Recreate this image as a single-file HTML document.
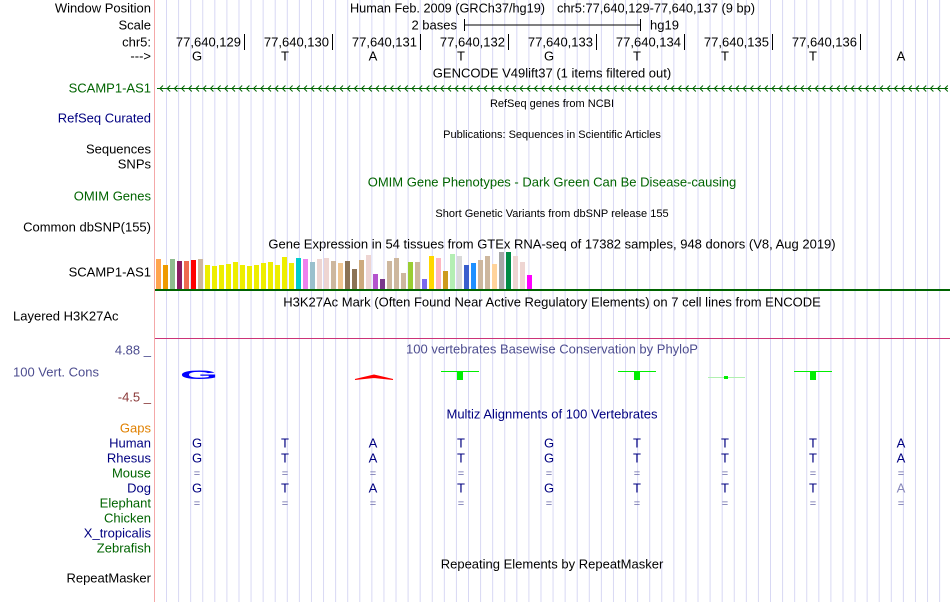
<!DOCTYPE html>
<html><head><meta charset="utf-8"><style>
body{margin:0;background:#fff;width:950px;height:602px;overflow:hidden;font-family:"Liberation Sans",sans-serif}
svg{display:block}
text{font-family:"Liberation Sans",sans-serif}
</style></head><body>
<svg id="c" width="950" height="602"></svg>
<script>
const bases=['G','T','A','T','G','T','T','T','A'];
const positions=['77,640,129','77,640,130','77,640,131','77,640,132','77,640,133','77,640,134','77,640,135','77,640,136'];
const gtexHeights=[30,24,30,28,28,29,30,24,23,24,25,27,24,23,24,26,27,24,32,26,31,30,27,30,31,28,26,28,20,29,34,15,10,28,31,16,27,27,10,33,31,18,35,33,24,26,29,33,25,37,37,33,27,14];
const gtexColors=['#ffa54f','#ee9a00','#8fbc8f','#8b1c62','#ee6a50','#ff0000','#cdb79e','#eeee00','#eeee00','#eeee00','#eeee00','#eeee00','#eeee00','#eeee00','#eeee00','#eeee00','#eeee00','#eeee00','#eeee00','#eeee00','#00cdcd','#ee82ee','#9ac0cd','#eed5d2','#eed5d2','#cdb79e','#eec591','#8b7355','#8b7355','#cdaa7d','#eed5d2','#b452cd','#7a378b','#cdb79e','#cdb79e','#cdb79e','#9acd32','#cdb79e','#7b68ee','#ffd700','#ffb6c1','#cd9b1d','#b4eeb4','#d9d9d9','#3a5fcd','#1e90ff','#cdb79e','#cdb79e','#ffd39b','#a6a6a6','#008b45','#eed5d2','#eed5d2','#ff00ff'];
const rows=[['Human','#000080','b'],['Rhesus','#000080','b'],['Mouse','#006400','='],['Dog','#000080','b'],['Elephant','#006400','='],['Chicken','#006400',''],['X_tropicalis','#000080',''],['Zebrafish','#006400','']];
const ns='http://www.w3.org/2000/svg';
const svg=document.getElementById('c');
function el(tag,attrs,txt){const e=document.createElementNS(ns,tag);for(const k in attrs)e.setAttribute(k,attrs[k]);if(txt!==undefined)e.textContent=txt;svg.appendChild(e);return e;}
const X0=153,BW=88;
const bx=i=>X0+BW*i+44;
for(let x=166.5;x<950;x+=12.08){const g=el('line',{x1:x,x2:x,y1:0,y2:602,stroke:'#d8d8f4','stroke-width':1});

}
const lb=el('line',{x1:154.5,x2:154.5,y1:0,y2:602,stroke:'#f4a8a8'});


function T(x,y,s,opt){opt=opt||{};const t=el('text',{x:x,y:y+1,'font-size':opt.fs||13,fill:opt.fill||'#000','text-anchor':opt.a||'start','dominant-baseline':'middle'},s);
if(opt.len){t.setAttribute('textLength',opt.len);t.setAttribute('lengthAdjust','spacingAndGlyphs');}

return t;}
const L=[['Window Position',8,'#000'],['Scale',25,'#000'],['chr5:',42,'#000'],['--->',56,'#000'],['SCAMP1-AS1',88,'#006400'],['RefSeq Curated',118,'#000080'],['Sequences',149,'#000'],['SNPs',164,'#000'],['OMIM Genes',196,'#006400'],['Common dbSNP(155)',227,'#000'],['SCAMP1-AS1',272,'#000'],['4.88 _',350,'#4d4d8f'],['-4.5 _',397,'#8b3a3a'],['Gaps',428,'#e08000']];
L.forEach(l=>T(151,l[1],l[0],{a:'end',fill:l[2],name:'track-label',int:true}));
T(13,316,'Layered H3K27Ac',{name:'track-label',int:true});
T(13,372,'100 Vert. Cons',{fill:'#4d4d8f',name:'track-label',int:true});
rows.forEach((r,i)=>T(151,443+15*i,r[0],{a:'end',fill:r[1],name:'species-label'}));
T(151,578,'RepeatMasker',{a:'end',name:'track-label',int:true});
T(350,8,'Human Feb. 2009 (GRCh37/hg19)',{name:'assembly-title',len:195});
T(557,8,'chr5:77,640,129-77,640,137 (9 bp)',{name:'position-title',len:198});
T(457,25,'2 bases',{a:'end',name:'scale-label'});
const sl=el('path',{d:'M464.5 19v12M464.5 25H640.5M640.5 19v12',stroke:'#000',fill:'none'});


T(650,25,'hg19',{name:'assembly-label'});
positions.forEach((p,i)=>{const tx=X0+BW*(i+1)+3;T(tx-3,42,p,{a:'end',name:'ruler-label'});
const tk=el('line',{x1:tx+0.5,x2:tx+0.5,y1:34,y2:50,stroke:'#000'});

});
bases.forEach((b,i)=>T(bx(i),56,b,{a:'middle',name:'base-letter'}));
T(552,73,'GENCODE V49lift37 (1 items filtered out)',{a:'middle',name:'track-title'});
let d='M157 88.5H948';for(let x=160;x<948;x+=7.2)d+=`M${x+3} 85.5L${x} 88.5L${x+3} 91.5`;
const ga=el('path',{d:d,stroke:'#006400',fill:'none','stroke-width':1});


T(552,103,'RefSeq genes from NCBI',{a:'middle',fs:11,name:'track-title'});
T(552,134,'Publications: Sequences in Scientific Articles',{a:'middle',fs:11,name:'track-title'});
T(552,182,'OMIM Gene Phenotypes - Dark Green Can Be Disease-causing',{a:'middle',fill:'#006400',name:'track-title'});
T(552,213,'Short Genetic Variants from dbSNP release 155',{a:'middle',fs:11,name:'track-title'});
T(552,244,'Gene Expression in 54 tissues from GTEx RNA-seq of 17382 samples, 948 donors (V8, Aug 2019)',{a:'middle',name:'track-title'});
const base=289;
gtexHeights.forEach((h,i)=>{const r=el('rect',{x:156+7*i,y:base-h,width:5,height:h,fill:gtexColors[i]});

});
const gl=el('rect',{x:155,y:289,width:795,height:2,fill:'#006400'});


T(552,302,'H3K27Ac Mark (Often Found Near Active Regulatory Elements) on 7 cell lines from ENCODE',{a:'middle',name:'track-title'});
const ml=el('line',{x1:155,x2:950,y1:338.5,y2:338.5,stroke:'#cc3377'});


T(552,349,'100 vertebrates Basewise Conservation by PhyloP',{a:'middle',fill:'#4d4d8f',name:'track-title'});
const G=el('text',{x:199,y:379,'font-size':17,'font-weight':'bold',fill:'#0000ff','text-anchor':'middle',transform:'translate(199 379) scale(2.9 0.72) translate(-199 -379)'},'G');


const car=el('path',{d:'M355 379.5L374 375L393 379.5L374 377.5Z',stroke:'#ff0000','stroke-width':1,fill:'#ff0000'});


[441,618,794].forEach(x=>{const p=el('path',{d:`M${x} 371.5H${x+38}`,stroke:'#00ee00','stroke-width':1,fill:'none'});


const s=el('rect',{x:x+16,y:372,width:6,height:8,fill:'#00ee00'});

});
const sm=el('path',{d:'M708 377.5H745',stroke:'#b0f0b0'});


const sm2=el('rect',{x:724,y:376,width:4,height:3,fill:'#00ee00'});


T(552,414,'Multiz Alignments of 100 Vertebrates',{a:'middle',fill:'#000080',name:'track-title'});
rows.forEach((r,ri)=>{if(!r[2])return;bases.forEach((b,i)=>{
if(r[2]==='b')T(bx(i),443+15*ri,b,{a:'middle',fill:(r[0]==='Dog'&&i===8)?'#8888bb':'#000080',name:'alignment-base'});
else T(bx(i),443+15*ri,'=',{a:'middle',fill:'#6a6aaa',fs:11,name:'alignment-gap'});});});
T(552,564,'Repeating Elements by RepeatMasker',{a:'middle',name:'track-title'});
</script>
</body></html>
